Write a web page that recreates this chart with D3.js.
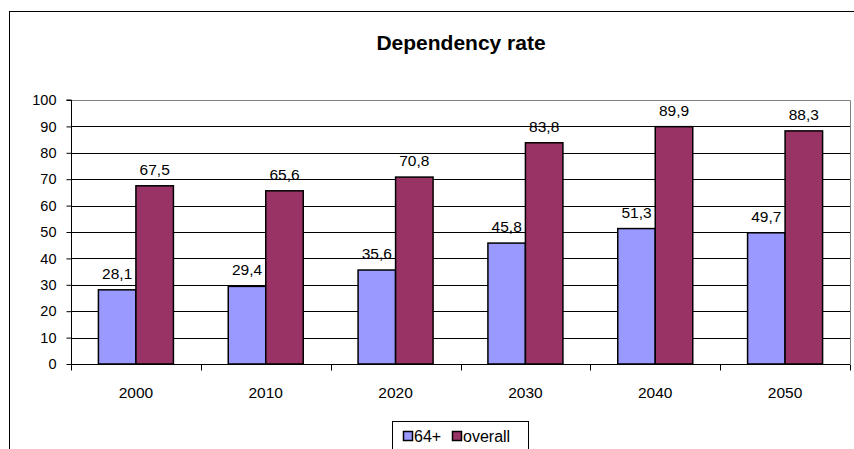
<!DOCTYPE html>
<html><head><meta charset="utf-8">
<script src="https://cdn.jsdelivr.net/npm/d3@7"></script>
<style>body{margin:0;background:#fff;} svg{display:block;font-family:"Liberation Sans",Arial,sans-serif;}</style>
</head><body>
<svg id="c" width="854" height="449"></svg>
<script>
const categories = ["2000","2010","2020","2030","2040","2050"];
const seriesNames = ["64+","overall"];
const values64 = [28.1,29.4,35.6,45.8,51.3,49.7];
const valuesOverall = [67.5,65.6,70.8,83.8,89.9,88.3];
const yTicks = [0,10,20,30,40,50,60,70,80,90,100];
const colors = ["#9999FF","#993366"];

const svg = d3.select("#c");
// outer chart border
svg.append("rect").attr("x",9.5).attr("y",11.5).attr("width",900).attr("height",500)
  .attr("fill","#fff").attr("stroke","#000").attr("stroke-width",1);

const L=71, R=850, T=100, B=364;
const x = d3.scaleBand().domain(categories).range([L,R]);
const y = d3.scaleLinear().domain([0,100]).range([B,T]);
const series = [values64, valuesOverall];
const barW = 37.5;

// gridlines
svg.append("g").selectAll("line").data(yTicks.filter(d=>d>0&&d<100)).join("line")
  .attr("x1",L).attr("x2",R).attr("y1",d=>Math.round(y(d))+0.5).attr("y2",d=>Math.round(y(d))+0.5)
  .attr("stroke","#000").attr("stroke-width",1);
// plot border top/right gray
svg.append("path").attr("d",`M${L},${T+0.5}H${R+0.5}V${B}`).attr("fill","none").attr("stroke","#808080");

// title
svg.append("text").attr("x",461).attr("y",50).attr("text-anchor","middle")
  .attr("font-weight","bold").attr("font-size",21).text("Dependency rate");

// bars
series.forEach((vals,si)=>{
  const g = svg.append("g");
  g.selectAll("rect").data(vals).join("rect")
    .attr("x",(d,i)=>x(categories[i])+x.bandwidth()/2 - barW + si*barW)
    .attr("y",d=>y(d)).attr("width",barW).attr("height",d=>B-y(d))
    .attr("fill",colors[si]).attr("stroke","#000").attr("stroke-width",1.5);
  g.selectAll("text").data(vals).join("text")
    .attr("x",(d,i)=>x(categories[i])+x.bandwidth()/2 - barW/2 + si*barW)
    .attr("y",d=>y(d)-11).attr("text-anchor","middle").attr("font-size",15.5)
    .text(d=>d3.format(".1f")(d).replace(".",","));
});

// y axis
const ya = svg.append("g").attr("transform",`translate(${L+0.5},0)`)
  .call(d3.axisLeft(y).tickValues(yTicks).tickSize(5).tickPadding(10).tickFormat(d3.format("d")));
ya.selectAll("path,line").attr("stroke","#000");
ya.select(".domain").attr("d",`M-5,${T}H0V${B}`);
ya.selectAll("text").attr("font-size",14.5).attr("font-family","Liberation Sans, Arial, sans-serif").attr("fill","#000");

// x axis
const xa = svg.append("g").attr("transform",`translate(0,${B+0.5})`);
xa.append("line").attr("x1",L).attr("x2",R).attr("stroke","#000");
xa.selectAll("line.t").data(categories.concat(["end"])).join("line").attr("class","t")
  .attr("x1",(d,i)=>Math.round(L+i*x.step())+0.5).attr("x2",(d,i)=>Math.round(L+i*x.step())+0.5)
  .attr("y1",0).attr("y2",6).attr("stroke","#000");
xa.selectAll("text").data(categories).join("text")
  .attr("x",d=>x(d)+x.bandwidth()/2).attr("y",33).attr("text-anchor","middle")
  .attr("font-size",15.5).text(d=>d);

// legend
const lg = svg.append("g");
lg.append("rect").attr("x",392.5).attr("y",421.5).attr("width",136).attr("height",40)
  .attr("fill","#fff").attr("stroke","#000");
const legX = [403,452];
seriesNames.forEach((n,i)=>{
  lg.append("rect").attr("x",legX[i]+0.5).attr("y",431.5).attr("width",9).attr("height",9)
    .attr("fill",colors[i]).attr("stroke","#000").attr("stroke-width",1.5);
  lg.append("text").attr("x",legX[i]+11).attr("y",442).attr("font-size",16).text(n);
});
</script>
</body></html>
